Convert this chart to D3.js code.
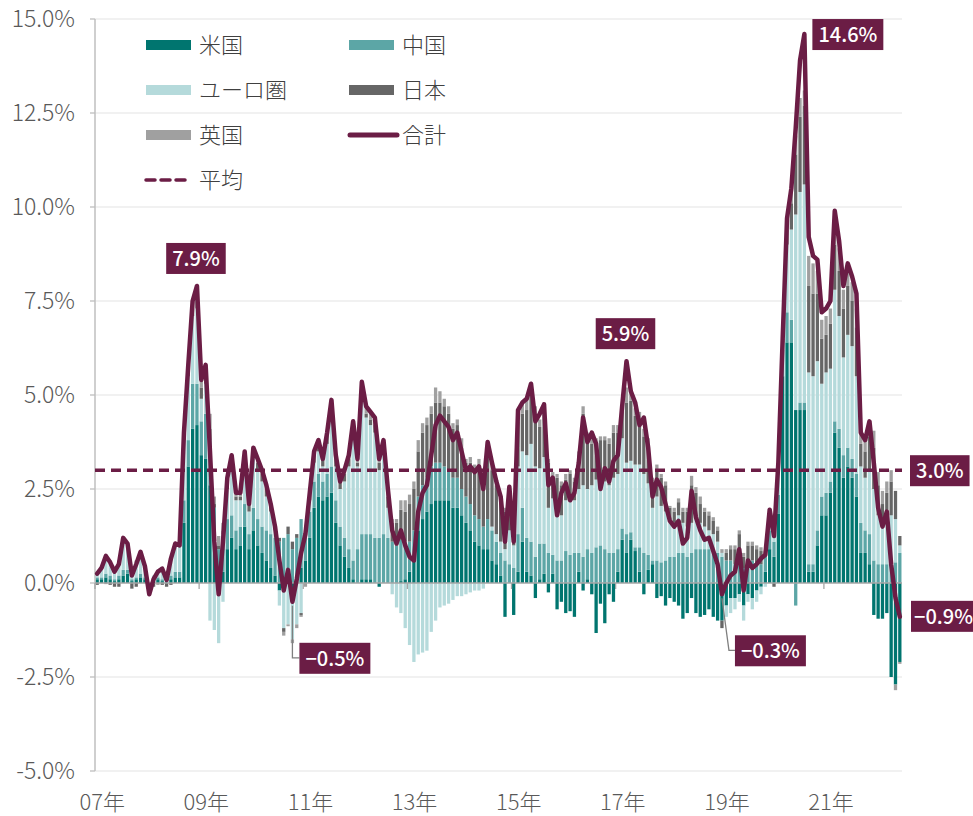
<!DOCTYPE html>
<html><head><meta charset="utf-8">
<script src="https://cdn.jsdelivr.net/npm/d3@7"></script>
<style>
body{margin:0;background:#fff;}
svg text{font-family:"Noto Sans CJK JP","Noto Sans",sans-serif;}
</style></head><body>
<svg id="chart" width="973" height="816"></svg>
<script>
// ---------- DATA (monthly, Jan 2007 – Jun 2022) ----------
const startYear = 2007;
const monthCount = 186;

const total = [
 0.25,0.40,0.72,0.55,0.30,0.50,1.20,1.05,0.20,0.50,0.83,0.45,
 -0.30,0.10,0.30,0.38,0.08,0.65,1.05,1.00,4.00,5.80,7.50,7.90,
 5.40,5.80,3.50,1.10,-0.30,1.10,2.80,3.40,2.40,2.40,3.50,2.10,
 3.60,3.30,3.00,2.60,2.10,1.50,0.60,-0.20,0.35,-0.50,0.10,0.80,
 1.30,2.40,3.50,3.80,3.30,4.00,4.87,3.40,2.70,3.00,3.40,4.30,
 3.30,5.35,4.70,4.55,4.40,3.30,3.80,2.50,1.40,1.05,1.40,1.00,
 0.70,0.60,1.90,2.40,2.60,3.40,4.20,4.45,4.30,4.15,3.80,4.00,
 3.50,3.00,3.10,2.95,3.10,2.50,3.75,3.20,2.70,2.30,1.10,2.56,
 1.10,4.60,4.80,4.90,5.30,4.30,4.50,4.75,2.60,2.80,1.80,2.40,
 2.65,2.20,2.40,3.20,4.40,3.75,4.00,3.70,2.50,3.05,2.70,3.25,
 3.40,4.70,5.90,5.10,4.80,4.20,4.40,3.60,2.30,2.75,2.55,2.10,
 1.65,1.50,1.65,1.05,1.20,2.45,1.75,1.40,1.15,1.20,0.85,0.50,
 -0.30,0.00,0.20,0.30,0.90,-0.20,0.60,0.40,0.50,0.65,0.75,1.95,
 1.25,3.20,6.50,9.70,10.50,12.10,13.90,14.60,9.20,8.70,8.60,7.20,
 7.30,7.50,9.90,9.10,7.90,8.50,8.15,7.70,4.00,3.80,4.30,3.20,
 2.00,1.50,1.90,0.50,-0.40,-0.90];

const us = [
 0.10,0.10,0.15,0.10,0.05,0.10,0.20,0.25,0.05,0.10,0.15,0.10,
 -0.05,0.05,0.10,0.05,0.00,0.10,0.15,0.15,1.60,3.10,4.10,4.20,
 3.40,3.30,2.60,1.30,-0.10,0.30,0.90,1.20,0.90,1.00,1.50,0.90,
 1.40,1.00,0.80,0.60,0.40,0.20,-0.20,-0.20,0.00,-0.30,0.10,0.40,
 0.60,1.20,2.00,2.30,2.20,2.30,2.40,1.60,1.00,0.70,0.40,0.10,
 0.00,0.10,0.10,0.10,0.00,-0.10,0.00,0.00,0.00,0.00,0.05,0.10,
 0.30,0.60,1.40,1.70,1.90,2.10,2.20,2.20,2.20,2.20,2.00,2.00,
 1.80,1.60,1.40,1.10,1.00,0.90,0.90,0.60,0.50,0.20,-0.90,0.00,
 -0.85,0.30,1.10,0.30,0.20,-0.40,0.10,0.25,-0.25,0.25,-0.70,-0.50,
 -0.80,-0.75,-0.90,0.30,-0.20,0.10,-0.30,-1.33,-0.55,-1.07,-0.30,-0.50,
 0.30,1.15,0.80,1.15,0.85,0.30,-0.30,0.35,0.50,-0.40,-0.35,-0.60,
 -0.40,-0.50,-0.60,-0.95,-0.80,-0.40,-0.80,-0.90,-0.85,-0.70,-0.90,-1.00,
 -1.00,-0.60,-0.40,-0.40,-0.30,-0.60,-0.30,-0.40,-0.20,-0.10,0.30,0.90,
 0.70,1.85,5.50,6.40,6.40,4.60,4.60,4.60,0.30,0.30,1.00,1.80,
 1.80,2.40,4.00,3.60,2.80,3.10,2.80,2.30,0.80,0.80,0.50,-0.85,
 -0.95,-0.95,-0.80,-2.50,-2.70,-2.10];

const china = [
 0.05,0.05,0.10,0.10,0.05,0.10,0.15,0.10,0.05,0.05,0.10,0.05,
 0.00,0.05,0.05,0.05,0.05,0.10,0.15,0.15,0.60,0.70,1.20,1.10,
 0.90,1.20,1.20,0.70,0.90,1.00,0.80,0.60,0.50,0.50,0.60,0.40,
 0.60,0.70,0.70,0.80,0.90,1.00,1.10,1.20,1.30,0.90,1.10,1.30,
 0.60,0.70,0.70,0.60,0.50,0.60,0.70,0.60,0.50,0.50,0.50,0.50,
 0.90,1.20,1.20,1.20,1.20,1.20,1.30,1.20,1.10,1.00,1.10,1.00,
 0.80,0.80,0.90,0.90,0.90,1.00,1.00,1.00,0.90,0.80,0.80,0.80,
 0.70,0.70,0.70,0.70,0.70,0.60,0.80,0.80,0.60,0.60,0.60,0.50,
 0.40,1.00,0.90,0.90,0.90,0.70,0.95,0.80,0.80,0.50,0.60,0.60,
 0.85,0.75,0.80,0.50,0.70,0.80,0.80,0.95,1.00,0.90,0.80,0.80,
 0.60,0.30,0.50,0.20,0.10,0.65,0.80,0.40,0.10,0.60,0.55,0.60,
 0.70,0.70,0.80,0.80,0.70,0.80,0.90,0.90,0.90,0.90,0.90,0.80,
 0.70,0.60,0.60,0.50,0.60,0.40,0.50,0.60,0.50,0.50,0.40,0.50,
 0.40,0.50,0.70,0.80,0.60,-0.60,0.20,0.20,0.20,0.20,0.40,0.50,
 0.60,0.30,0.30,0.50,0.60,0.50,0.50,0.60,0.80,0.60,0.80,0.60,
 0.50,0.50,0.50,0.60,0.55,0.80];

const euro = [
 0.15,0.25,0.50,0.40,0.30,0.35,0.80,0.70,0.20,0.40,0.60,0.30,
 -0.10,0.10,0.20,0.30,0.10,0.50,0.75,0.70,1.60,1.70,1.80,2.00,
 0.60,0.80,-1.00,-1.25,-1.50,-0.50,0.80,1.30,0.80,0.70,1.20,0.60,
 1.40,1.30,1.20,0.90,0.60,0.20,-0.40,-1.00,-1.10,-1.20,-1.10,-0.80,
 0.20,0.30,0.50,0.60,0.40,0.80,1.30,0.90,1.00,1.50,2.20,3.30,
 2.20,3.80,3.10,2.90,2.80,1.80,2.10,0.80,-0.30,-0.65,-0.80,-1.20,
 -1.65,-2.10,-1.90,-1.85,-1.80,-1.30,-1.00,-0.65,-0.60,-0.55,-0.45,-0.35,
 -0.35,-0.30,-0.25,-0.20,-0.20,-0.15,0.00,0.10,0.20,0.30,0.30,0.90,
 0.60,1.80,1.50,2.20,2.60,2.40,2.00,2.30,1.20,1.50,1.20,1.20,
 1.35,1.55,1.40,1.70,1.90,1.60,1.80,1.80,1.80,1.80,1.80,2.00,
 2.00,2.40,1.90,1.90,2.20,2.20,2.10,1.90,1.40,1.70,1.50,1.30,
 1.00,0.90,1.00,0.80,0.80,0.80,0.80,0.70,0.60,0.50,0.40,0.30,
 0.10,-0.30,-0.40,-0.30,-0.20,-0.40,-0.20,-0.30,-0.30,-0.20,-0.10,0.30,
 0.20,0.60,0.20,1.80,2.40,5.20,5.60,5.80,5.10,5.00,4.50,3.00,
 3.20,3.00,3.50,3.00,2.60,3.00,3.00,2.60,1.50,1.40,1.70,1.90,
 1.30,1.00,1.10,1.20,1.15,0.20];

const japan = [
 -0.05,0.00,0.00,-0.05,-0.10,-0.10,0.00,0.00,-0.15,-0.10,0.00,0.00,
 -0.15,-0.10,0.00,-0.05,-0.10,-0.05,0.00,0.00,0.10,0.10,0.20,0.30,
 0.30,0.30,0.30,0.10,0.10,0.10,0.10,0.10,0.10,0.10,0.10,0.15,
 0.10,0.20,0.20,0.20,0.15,0.10,0.10,-0.10,0.20,0.20,0.10,-0.05,
 0.00,0.20,0.30,0.30,0.20,0.30,0.40,0.30,0.20,0.20,0.20,0.20,
 0.10,0.10,0.10,0.15,0.20,0.20,0.20,0.30,0.50,0.60,0.80,0.80,
 1.00,1.10,1.20,1.40,1.40,1.40,1.60,1.60,1.60,1.50,1.30,1.40,
 1.10,0.90,1.10,1.20,1.40,1.00,1.80,1.50,1.30,1.10,1.00,1.10,
 0.80,1.20,1.00,1.20,1.30,1.30,1.10,1.20,1.20,0.60,1.00,0.80,
 0.55,0.60,0.50,0.90,1.90,1.30,1.10,1.00,1.00,1.10,1.10,1.20,
 1.10,0.70,1.60,1.60,1.30,1.20,1.00,1.00,0.70,0.70,0.75,0.70,
 0.30,0.30,0.35,0.30,0.40,1.00,0.70,0.50,0.40,0.40,0.35,0.30,
 -0.20,0.20,0.30,0.40,0.70,0.30,0.50,0.40,0.40,0.35,0.10,0.20,
 -0.10,0.20,0.05,0.40,0.70,1.60,2.00,2.10,2.30,2.20,1.80,1.20,
 1.00,1.20,1.20,1.20,1.30,1.30,1.20,1.30,0.60,0.70,0.90,1.10,
 0.80,0.60,0.80,0.90,0.75,0.25];

const uk = [
 0.00,0.00,-0.03,0.00,0.00,0.05,0.05,0.00,0.05,0.05,0.00,0.00,
 0.00,0.00,-0.05,0.03,0.03,0.00,0.00,0.00,0.10,0.20,0.20,0.30,
 0.20,0.20,0.40,0.20,0.25,0.20,0.20,0.20,0.10,0.10,0.10,0.05,
 0.10,0.10,0.10,0.10,0.05,0.00,0.00,-0.10,-0.05,-0.10,-0.10,-0.05,
 -0.10,0.00,0.00,0.00,0.00,0.00,0.07,0.00,0.00,0.10,0.10,0.20,
 0.10,0.15,0.20,0.20,0.20,0.20,0.20,0.20,0.10,0.10,0.25,0.30,
 0.25,0.20,0.30,0.25,0.20,0.20,0.40,0.30,0.20,0.20,0.15,0.15,
 0.25,0.10,0.15,0.15,0.20,0.15,0.25,0.20,0.10,0.10,0.10,0.06,
 0.15,0.30,0.30,0.30,0.30,0.30,0.20,0.25,0.10,0.10,0.10,0.10,
 0.15,0.10,0.10,0.10,0.20,0.20,0.15,0.10,0.10,0.10,0.15,0.20,
 0.20,0.20,0.40,0.20,0.20,0.20,0.20,0.20,0.10,0.15,0.10,0.10,
 0.05,0.10,0.10,0.10,0.10,0.25,0.15,0.20,0.10,0.10,0.10,0.10,
 0.10,0.10,0.10,0.10,0.10,0.10,0.10,0.10,0.10,0.10,0.05,0.05,
 0.05,0.05,0.05,0.30,0.40,0.50,0.50,0.40,0.80,0.80,0.60,0.50,
 0.50,0.40,0.80,0.60,0.50,0.50,0.50,0.50,0.30,0.30,0.40,0.45,
 0.35,0.35,0.30,0.30,-0.15,-0.05];

const average = 3.0;
const seriesKeys = ["us","china","euro","japan","uk"];
const seriesNames = ["米国","中国","ユーロ圏","日本","英国"];
const seriesColors = ["#00756f","#5ca6a6","#b5dadb","#666666","#a0a0a0"];
const lineName = "合計", avgName = "平均";
const yTicks = [-5,-2.5,0,2.5,5,7.5,10,12.5,15];
const xLabelYears = [2007,2009,2011,2013,2015,2017,2019,2021];
const xLabels = ["07年","09年","11年","13年","15年","17年","19年","21年"];
// callouts: month index, text
const callouts = [
 {i:23, text:"7.9%", pos:"above"},
 {i:163, text:"14.6%", pos:"right"},
 {i:122, text:"5.9%", pos:"above"},
 {i:45, text:"−0.5%", pos:"leader"},
 {i:144, text:"−0.3%", pos:"leader"},
 {i:185, text:"−0.9%", pos:"end"}
];
const avgLabel = "3.0%";

// ---------- CHART ----------
const maroon = "#6b1d45";
const svg = d3.select("#chart");
const L = 95, R = 902, T = 19, B = 771;
const idx = d3.range(monthCount);
const x = d3.scaleBand().domain(idx).range([L,R]).paddingInner(0.24).paddingOuter(0.12);
const step = x.step();
const y = d3.scaleLinear().domain([-5,15]).range([B,T]);
const cx = i => x(i) + x.bandwidth()/2;

// grid
svg.append("g").selectAll("line").data(yTicks.filter(v=>v!==0)).join("line")
  .attr("x1",L).attr("x2",R).attr("y1",d=>y(d)).attr("y2",d=>y(d))
  .attr("stroke","#ececec").attr("stroke-width",1.3);

// stacked bars
const table = idx.map(i => ({i, us:us[i], china:china[i], euro:euro[i], japan:japan[i], uk:uk[i]}));
const stack = d3.stack().keys(seriesKeys).offset(d3.stackOffsetDiverging)(table);
svg.append("g").selectAll("g").data(stack).join("g")
  .attr("fill",(d,k)=>seriesColors[k])
  .selectAll("rect").data(d=>d).join("rect")
  .attr("x",d=>x(d.data.i)).attr("width",x.bandwidth())
  .attr("y",d=>y(Math.max(d[0],d[1])))
  .attr("height",d=>Math.abs(y(d[0])-y(d[1])));

// y axis line + ticks
svg.append("line").attr("x1",L).attr("x2",L).attr("y1",T).attr("y2",B)
  .attr("stroke","#bfbfbf").attr("stroke-width",1.5);
svg.append("g").selectAll("line").data(yTicks).join("line")
  .attr("x1",L-5).attr("x2",L).attr("y1",d=>y(d)).attr("y2",d=>y(d))
  .attr("stroke","#bfbfbf").attr("stroke-width",1.3);
svg.append("g").selectAll("text").data(yTicks).join("text")
  .attr("x",75).attr("y",d=>y(d)).attr("dy","0.36em")
  .attr("text-anchor","end").attr("font-size",23).attr("font-weight",300).attr("fill","#595959")
  .text(d=>(d<0?"-":"")+Math.abs(d).toFixed(1)+"%");

// zero axis with ticks
svg.append("line").attr("x1",L).attr("x2",R).attr("y1",y(0)).attr("y2",y(0))
  .attr("stroke","#a6a6a6").attr("stroke-width",1.5);
const tickIdx = xLabelYears.map(yr => (yr-startYear)*12);
svg.append("g").selectAll("line").data(tickIdx).join("line")
  .attr("x1",i=>x(i)-(step-x.bandwidth())/2).attr("x2",i=>x(i)-(step-x.bandwidth())/2)
  .attr("y1",y(0)).attr("y2",y(0)+6)
  .attr("stroke","#a6a6a6").attr("stroke-width",1.3);
svg.append("g").selectAll("text").data(tickIdx).join("text")
  .attr("x",i=>cx(i)+5).attr("y",802).attr("dy","0.36em")
  .attr("text-anchor","middle").attr("font-size",22).attr("font-weight",300).attr("fill","#595959")
  .text((d,k)=>xLabels[k]);

// average dashed line
svg.append("line").attr("x1",L).attr("x2",R).attr("y1",y(average)).attr("y2",y(average))
  .attr("stroke",maroon).attr("stroke-width",3.5).attr("stroke-dasharray","10,6");

// total line
svg.append("path").datum(total)
  .attr("fill","none").attr("stroke",maroon).attr("stroke-width",4.5)
  .attr("stroke-linejoin","round").attr("stroke-linecap","round")
  .attr("d",d3.line().x((d,i)=>cx(i)).y(d=>y(d)));

// callouts
function labelBox(text, bx, by, anchor, pad){
  const g = svg.append("g");
  const t = g.append("text").attr("font-size",20).attr("fill","#fff")
    .attr("font-weight",500).text(text);
  const w = t.node().getComputedTextLength() + (pad===undefined?12:pad), h = 31;
  let left = anchor==="center" ? bx - w/2 : bx;
  g.insert("rect","text").attr("x",left).attr("y",by).attr("width",w).attr("height",h).attr("fill",maroon);
  t.attr("x",left+w/2).attr("y",by+h/2).attr("dy","0.36em").attr("text-anchor","middle");
}
callouts.forEach(c => {
  const px = cx(c.i), py = y(total[c.i]);
  if (c.pos==="above") labelBox(c.text, px-1, py-43, "center");
  else if (c.pos==="right") labelBox(c.text, px+8, py-15, "left");
  else if (c.pos==="end") labelBox(c.text, R+9, py-16, "left", 6);
  else if (c.pos==="leader") {
    const ly = py + 56;
    svg.append("polyline")
      .attr("points",`${px},${py+4} ${px+ (c.i===45?0:7)},${ly} ${px+(c.i===45?7:13)},${ly}`)
      .attr("fill","none").attr("stroke","#7f7f7f").attr("stroke-width",1.3);
    labelBox(c.text, px+(c.i===45?7:13), ly-15, "left");
  }
});
labelBox(avgLabel, R+8, y(average)-15, "left");

// legend
const legend = svg.append("g");
const legItems = [
  {type:"rect", color:seriesColors[0], name:seriesNames[0], col:0,row:0},
  {type:"rect", color:seriesColors[1], name:seriesNames[1], col:1,row:0},
  {type:"rect", color:seriesColors[2], name:seriesNames[2], col:0,row:1},
  {type:"rect", color:seriesColors[3], name:seriesNames[3], col:1,row:1},
  {type:"rect", color:seriesColors[4], name:seriesNames[4], col:0,row:2},
  {type:"line", color:maroon, name:lineName, col:1,row:2},
  {type:"dash", color:maroon, name:avgName, col:0,row:3}
];
legItems.forEach(d => {
  const lx = d.col===0 ? 146 : 349, ly = 45 + d.row*45;
  if (d.type==="rect") legend.append("rect").attr("x",lx).attr("y",ly-5).attr("width",45).attr("height",10).attr("fill",d.color);
  else if (d.type==="line") legend.append("line").attr("x1",lx+1).attr("x2",lx+48).attr("y1",ly).attr("y2",ly)
     .attr("stroke",d.color).attr("stroke-width",5).attr("stroke-linecap","round");
  else legend.append("line").attr("x1",lx).attr("x2",lx+44).attr("y1",ly).attr("y2",ly)
     .attr("stroke",d.color).attr("stroke-width",3.5).attr("stroke-dasharray","9,6").attr("stroke-linecap","round");
  legend.append("text").attr("x",lx+53).attr("y",ly).attr("dy","0.36em")
    .attr("font-size",22).attr("font-weight",300).attr("fill","#404040").text(d.name);
});
</script>
</body></html>
